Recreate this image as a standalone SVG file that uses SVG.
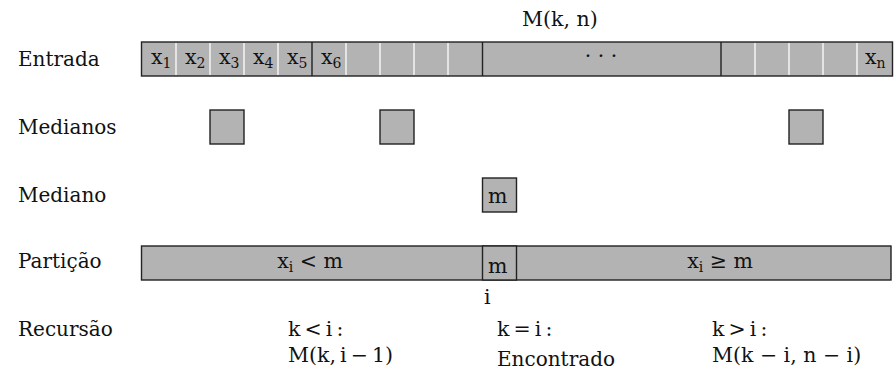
<svg xmlns="http://www.w3.org/2000/svg" width="894" height="376" viewBox="0 0 894 376">
  <style>
    .lbl { font-family: "DejaVu Serif", "Liberation Serif", serif; font-size: 20px; fill: #111; }
    .math { font-family: "DejaVu Serif", "Liberation Serif", serif; font-size: 20.5px; fill: #111; }
    .sub { font-size: 14px; }
    .cell { fill: #b3b3b3; stroke: #222; stroke-width: 1.4; }
    .sep { stroke: #fff; stroke-width: 1.3; }
    .div { stroke: #222; stroke-width: 1.4; }
  </style>

  <!-- row labels -->
  <g id="labels">
    <text class="lbl" x="18" y="66">Entrada</text>
    <text class="lbl" x="18" y="134">Medianos</text>
    <text class="lbl" x="18" y="202">Mediano</text>
    <text class="lbl" x="18" y="268">Partição</text>
    <text class="lbl" x="18" y="336">Recursão</text>
  </g>

  <!-- input array -->
  <g id="entrada">
    <text class="math" x="522" y="26">M(k, n)</text>
    <rect class="cell" x="141.5" y="42" width="751" height="34"/>
    <g class="sep">
      <line x1="176" y1="43" x2="176" y2="75"/>
      <line x1="210" y1="43" x2="210" y2="75"/>
      <line x1="244" y1="43" x2="244" y2="75"/>
      <line x1="278" y1="43" x2="278" y2="75"/>
      <line x1="346" y1="43" x2="346" y2="75"/>
      <line x1="380" y1="43" x2="380" y2="75"/>
      <line x1="414" y1="43" x2="414" y2="75"/>
      <line x1="448" y1="43" x2="448" y2="75"/>
      <line x1="755" y1="43" x2="755" y2="75"/>
      <line x1="789" y1="43" x2="789" y2="75"/>
      <line x1="823" y1="43" x2="823" y2="75"/>
      <line x1="857" y1="43" x2="857" y2="75"/>
    </g>
    <g class="div">
      <line x1="312" y1="42" x2="312" y2="76"/>
      <line x1="482.5" y1="42" x2="482.5" y2="76"/>
      <line x1="721" y1="42" x2="721" y2="76"/>
    </g>
    <text class="math" x="151" y="64">x<tspan class="sub" dy="4">1</tspan></text>
    <text class="math" x="185" y="64">x<tspan class="sub" dy="4">2</tspan></text>
    <text class="math" x="219" y="64">x<tspan class="sub" dy="4">3</tspan></text>
    <text class="math" x="253" y="64">x<tspan class="sub" dy="4">4</tspan></text>
    <text class="math" x="287" y="64">x<tspan class="sub" dy="4">5</tspan></text>
    <text class="math" x="321" y="64">x<tspan class="sub" dy="4">6</tspan></text>
    <text class="math" x="601" y="63" text-anchor="middle">· · ·</text>
    <text class="math" x="865" y="64">x<tspan class="sub" dy="4">n</tspan></text>
  </g>

  <!-- medians of groups -->
  <g id="medianos">
    <rect class="cell" x="210" y="110" width="34" height="34"/>
    <rect class="cell" x="380" y="110" width="34" height="34"/>
    <rect class="cell" x="789" y="110" width="34" height="34"/>
  </g>

  <!-- median of medians -->
  <g id="mediano">
    <rect class="cell" x="482.5" y="178" width="34" height="34"/>
    <text class="math" x="488" y="203">m</text>
  </g>

  <!-- partition -->
  <g id="particao">
    <rect class="cell" x="141.5" y="246" width="749.5" height="34"/>
    <rect class="cell" x="482.5" y="246" width="34" height="34"/>
    <text class="math" x="310" y="268" text-anchor="middle">x<tspan class="sub" dy="4">i</tspan><tspan dy="-4"> &lt; m</tspan></text>
    <text class="math" x="488" y="273">m</text>
    <text class="math" x="720" y="268" text-anchor="middle">x<tspan class="sub" dy="4">i</tspan><tspan dy="-4"> ≥ m</tspan></text>
    <text class="math" x="484" y="304">i</text>
  </g>

  <!-- recursion cases -->
  <g id="recursao">
    <text class="math" x="288" y="336">k&#8201;&lt;&#8201;i&#8201;:</text>
    <text class="math" x="288" y="362">M(k,&#8201;i&#8201;−&#8201;1)</text>
    <text class="math" x="497" y="336">k&#8201;=&#8201;i&#8201;:</text>
    <text class="lbl" x="497" y="366">Encontrado</text>
    <text class="math" x="712" y="336">k&#8201;&gt;&#8201;i&#8201;:</text>
    <text class="math" x="712" y="362">M(k − i, n − i)</text>
  </g>
</svg>
